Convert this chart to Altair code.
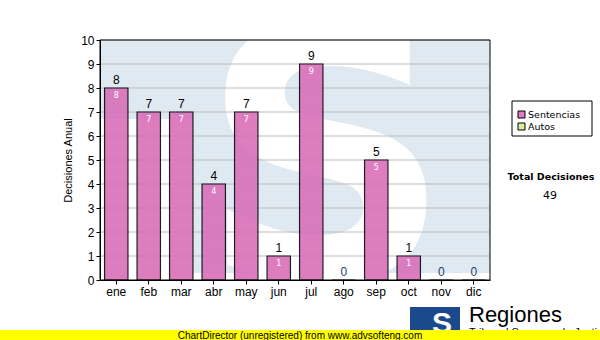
import altair as alt
import pandas as pd

months = ["ene", "feb", "mar", "abr", "may", "jun", "jul", "ago", "sep", "oct", "nov", "dic"]
sentencias = [8, 7, 7, 4, 7, 1, 9, 0, 5, 1, 0, 0]
y_ticks = list(range(0, 11))
legend_names = ["Sentencias", "Autos"]
legend_colors = ["#df7cc0", "#d8f0a0"]
total_label = "Total Decisiones"
total_value = sum(sentencias)

df = pd.DataFrame({"mes": months, "valor": sentencias})
df["lbl"] = df["valor"].astype(str)
df_pos = df[df["valor"] > 0]
df_zero = df[df["valor"] == 0]
grid_df = pd.DataFrame({"valor": y_ticks[1:]})
one = df.head(1)

FONT = "Liberation Sans"
W, H = 390, 240

xaxis = alt.Axis(title=None, labelAngle=0, labelFont=FONT, labelFontSize=12,
                 labelColor="#000", tickColor="#000", tickSize=4, domainColor="#000",
                 labelPadding=2, zindex=1, grid=False)
yaxis = alt.Axis(title="Decisiones Anual", values=y_ticks, labelOverlap=False,
                 titleFont=FONT, titleFontSize=11, titleFontWeight="normal",
                 titleColor="#000", titlePadding=7, labelFont=FONT, labelFontSize=12,
                 labelColor="#000", tickColor="#000", tickSize=4, domainColor="#000",
                 labelPadding=2, zindex=1, grid=False, format="d")
xscale = alt.Scale(paddingInner=0.28, paddingOuter=0.14)
yscale = alt.Scale(domain=[0, 10], nice=False)
xenc = alt.X("mes:N", sort=months, scale=xscale, axis=xaxis)
yenc = alt.Y("valor:Q", scale=yscale, axis=yaxis)

# watermark background
bg = alt.Chart(one).mark_rect(color="#dfe9f2").encode(
    x=alt.value(0), x2=alt.value(W), y=alt.value(0), y2=alt.value(233))
bg_white = alt.Chart(one).mark_rect(color="#ffffff").encode(
    x=alt.value(0), x2=alt.value(93), y=alt.value(79), y2=alt.value(H))
bg_s = alt.Chart(one).mark_text(
    text="S", font="DejaVu Sans", fontWeight="bold", fontSize=350, color="#ffffff",
    align="center", baseline="alphabetic", clip=True).encode(
    x=alt.value(226), y=alt.value(238))

grid = alt.Chart(grid_df).mark_rule(color="#bbbbbb", strokeWidth=1).encode(y=yenc)

bars = alt.Chart(df).mark_bar(color="#d96cb8", opacity=0.88, stroke="#000",
                              strokeWidth=1.2, strokeOpacity=1).encode(x=xenc, y=yenc)

top_lbl = alt.Chart(df_pos).mark_text(font=FONT, fontSize=12, color="#000",
                                      baseline="bottom", dy=-1).encode(
    x=xenc, y=yenc, text="lbl:N")
in_lbl = alt.Chart(df_pos).mark_text(font="DejaVu Sans", fontSize=8, color="#ffffff",
                                     baseline="top", dy=4).encode(
    x=xenc, y=yenc, text="lbl:N")
zero_lbl = alt.Chart(df_zero).mark_text(font=FONT, fontSize=12, color="#1f3f6a",
                                        baseline="bottom", dy=-1).encode(
    x=xenc, y=yenc, text="lbl:N")

frame = alt.Chart(one).mark_rect(fillOpacity=0, stroke="#000", strokeWidth=1).encode(
    x=alt.value(0), x2=alt.value(W), y=alt.value(0), y2=alt.value(H))

# legend
leg_layers = [alt.Chart(one).mark_rect(fill="#ffffff", stroke="#000", strokeWidth=1).encode(
    x=alt.value(412), x2=alt.value(492), y=alt.value(61), y2=alt.value(96))]
for i, (name, col) in enumerate(zip(legend_names, legend_colors)):
    yy = 74.5 + 12 * i
    leg_layers.append(alt.Chart(one).mark_rect(fill=col, stroke="#000", strokeWidth=1).encode(
        x=alt.value(418), x2=alt.value(425), y=alt.value(yy - 3.5), y2=alt.value(yy + 3.5)))
    leg_layers.append(alt.Chart(one).mark_text(text=name, font="DejaVu Sans", fontSize=9.5,
                                               color="#000", align="left", baseline="middle").encode(
        x=alt.value(428), y=alt.value(yy)))

tot1 = alt.Chart(one).mark_text(text=total_label, font="DejaVu Sans", fontSize=9.5, fontWeight="bold",
                                color="#000", align="center", baseline="middle").encode(
    x=alt.value(451), y=alt.value(137))
tot2 = alt.Chart(one).mark_text(text=str(total_value), font="DejaVu Sans", fontSize=11, color="#000",
                                align="center", baseline="middle").encode(
    x=alt.value(450), y=alt.value(156))

# footer logo
logo_block = alt.Chart(one).mark_rect(color="#1b4a8c").encode(
    x=alt.value(310), x2=alt.value(360), y=alt.value(267), y2=alt.value(292))
logo_s = alt.Chart(one).mark_text(text="S", font=FONT, fontWeight="bold", fontSize=30,
                                  color="#ffffff", align="center", baseline="alphabetic").encode(
    x=alt.value(342), y=alt.value(293))
logo_txt = alt.Chart(one).mark_text(text="Regiones", font=FONT, fontSize=22, color="#000",
                                    align="left", baseline="alphabetic").encode(
    x=alt.value(369), y=alt.value(282))
logo_sub = alt.Chart(one).mark_text(text="Tribunal Supremo de Justicia", font=FONT, fontSize=11,
                                    color="#000", align="left", baseline="top").encode(
    x=alt.value(369), y=alt.value(287))

yellow = alt.Chart(one).mark_rect(color="#ffff00").encode(
    x=alt.value(-100), x2=alt.value(500), y=alt.value(290), y2=alt.value(300))
footer = alt.Chart(one).mark_text(text="ChartDirector (unregistered) from www.advsofteng.com",
                                  font=FONT, fontSize=10, color="#000",
                                  align="center", baseline="middle").encode(
    x=alt.value(200), y=alt.value(295.5))

chart = alt.layer(
    bg, bg_white, bg_s, grid, bars, top_lbl, in_lbl, zero_lbl, frame,
    *leg_layers, tot1, tot2,
    logo_block, logo_s, logo_txt, logo_sub, yellow, footer
).properties(
    width=W, height=H,
    autosize=alt.AutoSizeParams(type="none"),
    padding={"left": 100, "top": 40, "right": 110, "bottom": 60},
    background="#ffffff",
).configure_view(stroke=None)

chart.save("out.html", embed_options={"renderer": "svg", "actions": False})
